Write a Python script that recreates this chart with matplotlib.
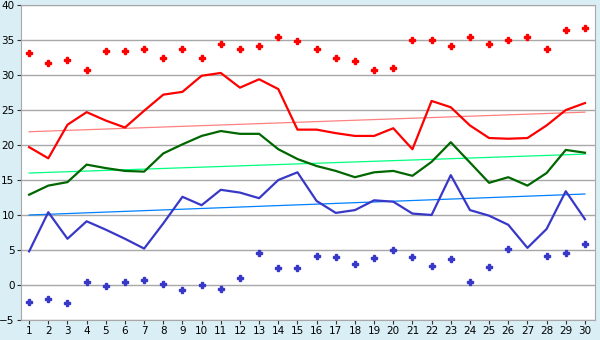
import numpy as np
import matplotlib
matplotlib.use("Agg")
import matplotlib.pyplot as plt

# Daily temperatures for one month
days = list(range(1, 31))

t_max = [19.7, 18.1, 22.9, 24.7, 23.5, 22.5, 24.9, 27.2, 27.6, 29.9,
         30.3, 28.2, 29.4, 28.0, 22.2, 22.2, 21.7, 21.3, 21.3, 22.4,
         19.4, 26.3, 25.4, 22.8, 21.0, 20.9, 21.0, 22.8, 25.0, 26.0]
t_mean = [12.9, 14.2, 14.7, 17.2, 16.7, 16.3, 16.2, 18.8, 20.1, 21.3,
          22.0, 21.6, 21.6, 19.4, 18.0, 17.0, 16.3, 15.4, 16.1, 16.3,
          15.6, 17.6, 20.4, 17.5, 14.6, 15.4, 14.2, 16.0, 19.3, 18.9]
t_min = [4.8, 10.4, 6.6, 9.1, 7.9, 6.6, 5.2, 8.8, 12.6, 11.4,
         13.6, 13.2, 12.4, 15.0, 16.1, 12.0, 10.3, 10.7, 12.1, 11.9,
         10.2, 10.0, 15.7, 10.7, 9.9, 8.6, 5.3, 8.0, 13.4, 9.4]

# Record highs / lows for each day
rec_max = [33.1, 31.7, 32.1, 30.7, 33.4, 33.5, 33.7, 32.4, 33.7, 32.4,
           34.4, 33.7, 34.1, 35.5, 34.8, 33.7, 32.4, 32.0, 30.7, 31.0,
           35.0, 35.0, 34.1, 35.5, 34.4, 35.0, 35.4, 33.7, 36.5, 36.7]
rec_min = [-2.5, -2.0, -2.6, 0.4, -0.2, 0.4, 0.7, 0.1, -0.7, 0.0,
           -0.6, 1.0, 4.5, 2.4, 2.4, 4.2, 4.0, 3.0, 3.8, 5.0,
           4.0, 2.7, 3.7, 0.4, 2.5, 5.1, np.nan, 4.1, 4.5, 5.8]

# Normal lines (start and end of month)
norm_days = [1, 30]
norm_max = [21.9, 24.7]
norm_mean = [16.0, 18.7]
norm_min = [10.0, 13.0]

fig = plt.figure(figsize=(6, 3.4), dpi=100, facecolor="#daeef5")
ax = fig.add_axes([0.0345, 0.059, 0.957, 0.926])
ax.set_facecolor("white")

ax.plot(norm_days, norm_max, color="#ff8080", lw=0.9)
ax.plot(norm_days, norm_mean, color="#00ff80", lw=0.9)
ax.plot(norm_days, norm_min, color="#0080ff", lw=0.9)

ax.plot(days, t_max, color="#ff0000", lw=1.6)
ax.plot(days, t_mean, color="#006600", lw=1.6)
ax.plot(days, t_min, color="#3838c8", lw=1.6)

ax.plot(days, rec_max, ls="none", marker="P", ms=4, color="#ff0000", mec="#ff0000")
ax.plot(days, rec_min, ls="none", marker="P", ms=4, color="#3838c8", mec="#3838c8")

ax.set_xlim(0.56, 30.52)
ax.set_ylim(-5, 40)
ax.set_xticks(days)
ax.set_yticks(range(-5, 41, 5))
ax.yaxis.grid(True, color="#a8a8a8", lw=1)
ax.set_axisbelow(True)
for s in ax.spines.values():
    s.set_color("#a8a8a8")
ax.tick_params(axis="both", direction="out", length=3, width=0.8, color="#333333",
               labelsize=7.5, pad=1.5)

fig.savefig("out.png", dpi=100, facecolor=fig.get_facecolor())
